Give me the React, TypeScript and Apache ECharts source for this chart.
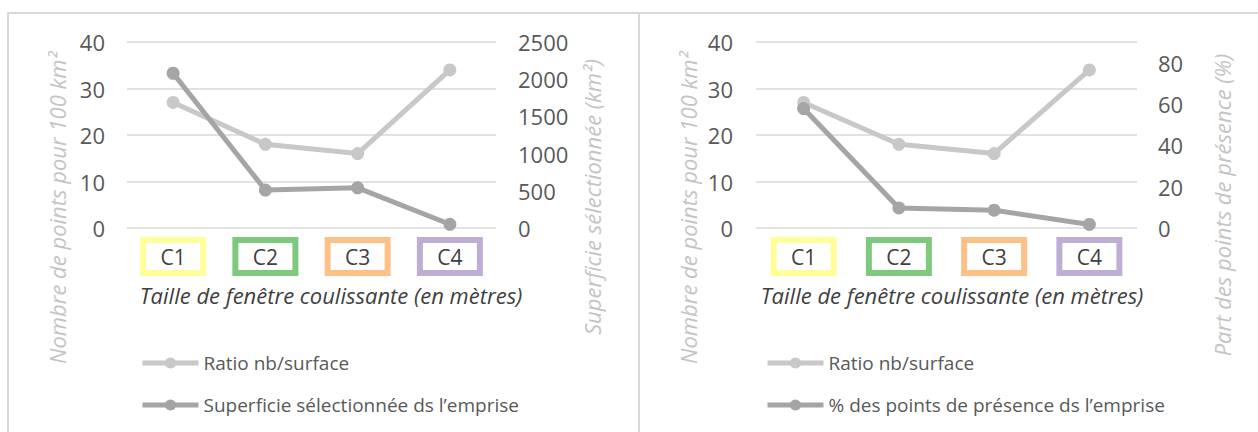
import React, { useEffect, useRef } from "react";
import * as echarts from "echarts";

const categories = ["C1", "C2", "C3", "C4"];
const boxColors = ["#FFFF99", "#7FC97F", "#FDC086", "#BEAED4"];
const ratio = [27, 18, 16, 34];
const superficie = [2080, 510, 540, 50];
const presence = [57.8, 9.7, 8.6, 1.7];

const leftAxisTitle = "Nombre de points pour 100 km²";
const superTitle = "Superficie sélectionnée (km²)";
const presTitle = "Part des points de présence (%)";
const xTitle = "Taille de fenêtre coulissante (en mètres)";
const legendRatio = "Ratio nb/surface";
const legendSuper = "Superficie sélectionnée ds l’emprise";
const legendPres = "% des points de présence ds l’emprise";

const FONT = "Open Sans";
const LIGHT = "#C8C8C8";
const DARK = "#A5A5A5";
const GRID = "#D9D9D9";

function richBoxes() {
  const r: any = {};
  boxColors.forEach((c, i) => {
    r["c" + i] = {
      width: 54,
      height: 27,
      lineHeight: 27,
      align: "center",
      verticalAlign: "middle",
      borderColor: c,
      borderWidth: 6,
      backgroundColor: "#fff",
      fontSize: 21,
      fontFamily: FONT,
      color: "#404040",
    };
  });
  return r;
}

function xAxis(gridIndex: number) {
  return {
    type: "category",
    gridIndex,
    data: categories,
    boundaryGap: true,
    axisLine: { show: false },
    axisTick: { show: false },
    axisLabel: {
      interval: 0,
      margin: 15,
      formatter: (v: string, i: number) => `{c${i}|${v}}`,
      rich: richBoxes(),
    },
  };
}

const tickLabel = { color: "#595959", fontSize: 22, fontFamily: FONT };

export default function App() {
  const ref = useRef<HTMLDivElement>(null);
  useEffect(() => {
    if (!ref.current) return;
    const chart = echarts.init(ref.current, null, { renderer: "svg" });
    const seriesLine = (name: string, data: number[], color: string, x: number, y: number) => ({
      name,
      type: "line",
      xAxisIndex: x,
      yAxisIndex: y,
      data,
      symbol: "circle",
      symbolSize: 13,
      lineStyle: { color, width: 5 },
      itemStyle: { color },
    });
    const vText = (x: number, y: number, text: string) => ({
      type: "text",
      x,
      y,
      rotation: Math.PI / 2,
      style: {
        text,
        fill: "#C4C4C4",
        font: `italic 22px ${FONT}`,
        textAlign: "center",
        textVerticalAlign: "middle",
      },
    });
    const hText = (x: number, y: number, text: string) => ({
      type: "text",
      x,
      y,
      style: {
        text,
        fill: "#404040",
        font: `italic 22px ${FONT}`,
        textAlign: "center",
        textVerticalAlign: "middle",
      },
    });
    const line = (x1: number, y1: number, x2: number, y2: number) => ({
      type: "line",
      shape: { x1, y1, x2, y2 },
      style: { stroke: GRID, lineWidth: 2 },
    });
    const legendBase = {
      top: 348,
      orient: "vertical",
      itemWidth: 56,
      itemHeight: 14,
      itemGap: 22,
      lineStyle: { width: 5 },
      textStyle: { color: "#595959", fontSize: 19, fontFamily: FONT, lineHeight: 20 },
    };
    chart.setOption({
      animation: false,
      backgroundColor: "#fff",
      grid: [
        { left: 127, top: 42, width: 369, height: 186 },
        { left: 756, top: 42, width: 381, height: 186 },
      ],
      xAxis: [xAxis(0), xAxis(1)],
      yAxis: [
        {
          type: "value",
          gridIndex: 0,
          min: 0,
          max: 40,
          interval: 10,
          axisLabel: { ...tickLabel, margin: 22 },
          splitLine: { lineStyle: { color: GRID, width: 1.5 } },
        },
        {
          type: "value",
          gridIndex: 0,
          position: "right",
          min: 0,
          max: 2500,
          interval: 500,
          axisLine: { show: false },
          axisTick: { show: false },
          axisLabel: { ...tickLabel, margin: 22, formatter: (v: number) => String(v) },
          splitLine: { show: false },
        },
        {
          type: "value",
          gridIndex: 1,
          min: 0,
          max: 40,
          interval: 10,
          axisLabel: { ...tickLabel, margin: 23 },
          splitLine: { lineStyle: { color: GRID, width: 1.5 } },
        },
        {
          type: "value",
          gridIndex: 1,
          position: "right",
          min: 0,
          max: 90,
          interval: 20,
          axisLine: { show: false },
          axisTick: { show: false },
          axisLabel: {
            ...tickLabel,
            margin: 21,
            formatter: (v: number) => (v > 85 ? "" : String(v)),
          },
          splitLine: { show: false },
        },
      ],
      legend: [
        { ...legendBase, left: 135, data: [legendRatio, legendSuper] },
        { ...legendBase, left: 760, data: [legendRatio + " ", legendPres] },
      ],
      series: [
        seriesLine(legendRatio, ratio, LIGHT, 0, 0),
        seriesLine(legendSuper, superficie, DARK, 0, 1),
        seriesLine(legendRatio + " ", ratio, LIGHT, 1, 2),
        seriesLine(legendPres, presence, DARK, 1, 3),
      ],
      graphic: [
        line(7, 13, 1258, 13),
        line(8, 13, 8, 432),
        line(639, 13, 639, 432),
        vText(57, 208, leftAxisTitle),
        vText(592, 197, superTitle),
        vText(688, 208, leftAxisTitle),
        vText(1222, 205, presTitle),
        hText(331, 295, xTitle),
        hText(952, 295, xTitle),
      ],
    });
    return () => chart.dispose();
  }, []);
  return (
    <div
      ref={ref}
      style={{ position: "fixed", left: 0, top: 0, width: 1258, height: 432 }}
    />
  );
}
